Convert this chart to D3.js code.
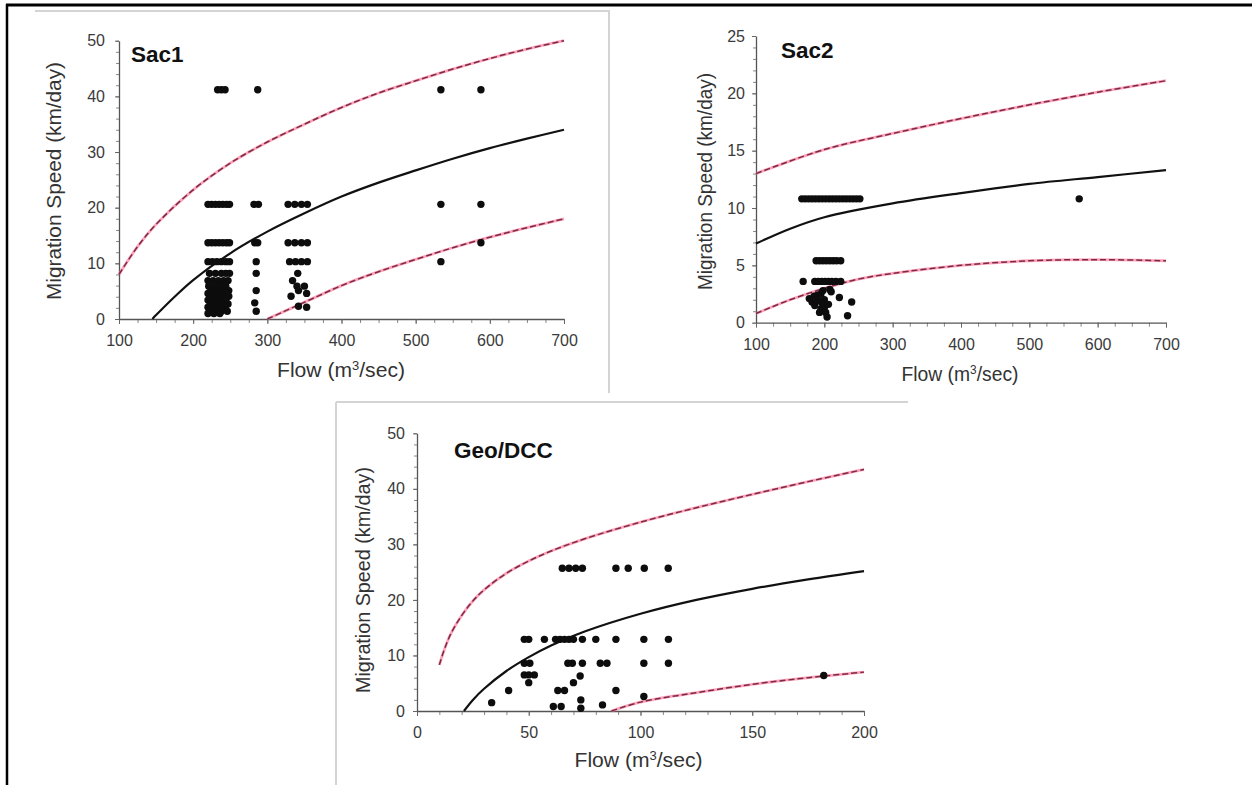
<!DOCTYPE html>
<html><head><meta charset="utf-8">
<script src="https://cdn.jsdelivr.net/npm/d3@7"></script>
<style>
body{margin:0;background:#fff}
svg{display:block}
text{font-family:"Liberation Sans",Arial,Helvetica,sans-serif}
</style>
</head><body><svg id="c" width="1252" height="785"></svg>
<script>
// ---------------- DATA ----------------
const sac1XTicks = [100, 200, 300, 400, 500, 600, 700];
const sac1YTicks = [0, 10, 20, 30, 40, 50];
const sac1Points = [
  [233,41.2],[238,41.2],[243,41.2],[287,41.2],[534,41.2],[588,41.2],
  [220,20.6],[225,20.6],[230,20.6],[235,20.6],[240,20.6],[245,20.6],[249,20.6],[282,20.6],[288,20.6],[328,20.6],[337,20.6],[346,20.6],[354,20.6],[534,20.6],[588,20.6],
  [220,13.7],[225,13.7],[230,13.7],[235,13.7],[240,13.7],[245,13.7],[249,13.7],[283,13.7],[287,13.7],[328,13.7],[337,13.7],[346,13.7],[354,13.7],[588,13.7],
  [220,10.3],[226,10.3],[232,10.3],[238,10.3],[244,10.3],[249,10.3],[285,10.3],[330,10.3],[338,10.3],[346,10.3],[354,10.3],[534,10.3],
  [222,8.2],[230,8.2],[238,8.2],[244,8.2],[249,8.2],[285,8.2],[341,8.2],
  [220,6.9],[227,6.9],[234,6.9],[241,6.9],[247,6.9],[334,6.9],
  [221,5.9],[229,5.9],[237,5.9],[244,5.9],[340,5.9],[350,5.9],
  [224,5.1],[232,5.1],[240,5.1],[248,5.1],[285,5.1],[342,5.1],
  [220,4.6],[228,4.6],[236,4.6],[244,4.6],[353,4.6],
  [224,4.1],[232,4.1],[240,4.1],[248,4.1],[332,4.1],
  [220,3.4],[228,3.4],[236,3.4],[244,3.4],
  [223,2.7],[231,2.7],[239,2.7],[247,2.7],[283,2.9],
  [220,2.1],[227,2.1],[235,2.1],[243,2.1],[342,2.3],[353,2.1],
  [222,1.4],[230,1.4],[238,1.4],[246,1.4],[285,1.4],
  [220,1.0],[228,1.0],[236,1.0]
];
const sac1Fit = [[145,0],[150,0.7],[175,4],[200,7],[250,11.8],[300,15.7],[350,19],[400,22],[450,24.5],[500,26.7],[550,28.8],[600,30.7],[650,32.4],[700,34]];
const sac1Upper = [[100,8],[125,13],[150,17],[200,23.2],[250,28],[300,31.8],[350,35],[400,38],[450,40.6],[500,42.8],[550,44.9],[600,46.8],[650,48.5],[700,50]];
const sac1Lower = [[300,0],[350,3],[400,6],[450,8.5],[500,10.7],[550,12.8],[600,14.7],[650,16.4],[700,18]];

const sac2XTicks = [100, 200, 300, 400, 500, 600, 700];
const sac2YTicks = [0, 5, 10, 15, 20, 25];
const sac2Points = [
  [167,10.8],[172,10.8],[177,10.8],[182,10.8],[187,10.8],[192,10.8],[197,10.8],[202,10.8],[207,10.8],[212,10.8],[217,10.8],[222,10.8],[227,10.8],[232,10.8],[237,10.8],[242,10.8],[247,10.8],[252,10.8],[573,10.8],
  [188,5.4],[193,5.4],[198,5.4],[203,5.4],[208,5.4],[213,5.4],[218,5.4],[224,5.4],
  [169,3.6],[186,3.6],[191,3.6],[196,3.6],[201,3.6],[206,3.6],[211,3.6],[217,3.6],[224,3.6],
  [178,2.1],[182,1.8],[185,2.3],[186,1.5],[188,2.0],[190,2.4],[192,1.9],[193,0.9],[195,1.2],[195,2.5],[197,1.7],[198,2.8],[200,2.0],[200,1.3],[202,0.9],[204,0.5],[206,1.6],[208,2.9],[210,2.7],[222,2.2],[240,1.8],[234,0.6]
];
const sac2Fit = [[100,6.9],[150,8.2],[200,9.2],[300,10.4],[400,11.3],[500,12.1],[600,12.7],[700,13.3]];
const sac2Upper = [[100,13],[200,15.1],[300,16.5],[400,17.8],[500,19],[600,20.1],[700,21.1]];
const sac2Lower = [[100,0.8],[150,2.0],[200,3.0],[250,3.8],[300,4.3],[400,5.0],[500,5.4],[600,5.5],[700,5.4]];

const geoXTicks = [0, 50, 100, 150, 200];
const geoYTicks = [0, 10, 20, 30, 40, 50];
const geoPoints = [
  [65,25.7],[68,25.7],[71,25.7],[74,25.7],[89,25.7],[94.5,25.7],[101.7,25.7],[112.4,25.7],
  [48,12.9],[50,12.9],[57,12.9],[62,12.9],[64,12.9],[66,12.9],[68,12.9],[70,12.9],[74,12.9],[80,12.9],[89,12.9],[101.5,12.9],[112.5,12.9],
  [48,8.6],[50.5,8.6],[67.5,8.6],[69.5,8.6],[74,8.6],[82,8.6],[85,8.6],[101.5,8.6],[112.5,8.6],
  [48,6.5],[50,6.5],[52.5,6.5],[73,6.3],
  [50,5.1],[70,5.1],
  [41,3.7],[63,3.7],[66,3.7],[89,3.7],
  [101.5,2.6],[73.3,2.0],[33.4,1.5],[83,1.1],[61,0.8],[64.5,0.8],[73.3,0.5],
  [182,6.4]
];
const geoFit = [[21,0],[25,2],[30,4],[40,7.2],[50,9.7],[60,11.8],[75,14.3],[100,17.5],[125,20],[150,22],[175,23.7],[200,25.2]];
const geoUpper = [[10,8.3],[12,10.8],[15,13.8],[20,17.2],[25,19.8],[30,21.8],[40,24.8],[50,27],[60,28.8],[75,31],[100,34],[125,36.6],[150,39],[175,41.3],[200,43.5]];
const geoLower = [[87,0],[100,1.6],[125,3.3],[150,4.8],[175,6.0],[200,7.0]];

const yLabel = "Migration Speed (km/day)";

// ---------------- LAYOUT ----------------
const svg = d3.select("#c");

// frame
svg.append("line").attr("x1",6).attr("x2",1252).attr("y1",5).attr("y2",5).attr("stroke","#000").attr("stroke-width",3);
svg.append("line").attr("x1",7).attr("x2",7).attr("y1",4).attr("y2",785).attr("stroke","#000").attr("stroke-width",2.5);
// faint panel borders
const bc = "#d4d4d4";
svg.append("line").attr("x1",35).attr("x2",610).attr("y1",11).attr("y2",11).attr("stroke",bc).attr("stroke-width",2);
svg.append("line").attr("x1",609).attr("x2",609).attr("y1",11).attr("y2",393).attr("stroke",bc).attr("stroke-width",2);
svg.append("line").attr("x1",336).attr("x2",908).attr("y1",402).attr("y2",402).attr("stroke",bc).attr("stroke-width",2);
svg.append("line").attr("x1",336).attr("x2",336).attr("y1",402).attr("y2",785).attr("stroke",bc).attr("stroke-width",2);

const panels = [
  {title:"Sac1", points:sac1Points, fit:sac1Fit, upper:sac1Upper, lower:sac1Lower,
   xTicks:sac1XTicks, yTicks:sac1YTicks, xMinor:25, yMinor:2,
   px:[119,564], py:[319,40.7], titleXY:[131,62], ylab:{x:61,y:181,len:238}, xlab:{x:341,y:377,len:128}, yPad:10},
  {title:"Sac2", points:sac2Points, fit:sac2Fit, upper:sac2Upper, lower:sac2Lower,
   xTicks:sac2XTicks, yTicks:sac2YTicks, xMinor:25, yMinor:1,
   px:[756,1166], py:[322.7,36], titleXY:[781,58], ylab:{x:712,y:181.5,len:217}, xlab:{x:960,y:381,len:117}, yPad:7},
  {title:"Geo/DCC", points:geoPoints, fit:geoFit, upper:geoUpper, lower:geoLower,
   xTicks:geoXTicks, yTicks:geoYTicks, xMinor:10, yMinor:2,
   px:[417,864], py:[711,433.3], titleXY:[454,458], ylab:{x:370,y:580,len:226}, xlab:{x:638.5,y:767,len:128}, yPad:8}
];

function drawPanel(p) {
  const xd = [p.xTicks[0], p.xTicks[p.xTicks.length-1]];
  const yd = [p.yTicks[0], p.yTicks[p.yTicks.length-1]];
  const x = d3.scaleLinear().domain(xd).range(p.px);
  const y = d3.scaleLinear().domain(yd).range(p.py);
  const g = svg.append("g");

  // minor ticks
  const xm = d3.range(xd[0], xd[1] + 1e-6, p.xMinor);
  const ym = d3.range(yd[0], yd[1] + 1e-6, p.yMinor);
  const gxm = g.append("g").attr("transform",`translate(0,${p.py[0]})`)
    .call(d3.axisBottom(x).tickValues(xm).tickSize(4).tickSizeOuter(0).tickFormat(""));
  const gym = g.append("g").attr("transform",`translate(${p.px[0]},0)`)
    .call(d3.axisLeft(y).tickValues(ym).tickSize(3).tickSizeOuter(0).tickFormat(""));
  [gxm, gym].forEach(a => { a.select(".domain").remove(); a.selectAll("line").attr("stroke","#888").attr("stroke-width",1); });

  // major axes
  const gx = g.append("g").attr("transform",`translate(0,${p.py[0]})`)
    .call(d3.axisBottom(x).tickValues(p.xTicks).tickSize(5).tickSizeOuter(0).tickPadding(11));
  const gy = g.append("g").attr("transform",`translate(${p.px[0]},0)`)
    .call(d3.axisLeft(y).tickValues(p.yTicks).tickSize(4).tickSizeOuter(0).tickPadding(p.yPad));
  [gx, gy].forEach(a => {
    a.select(".domain").attr("stroke","#555").attr("stroke-width",1.3);
    a.selectAll("line").attr("stroke","#666").attr("stroke-width",1);
    a.selectAll("text").attr("font-size",16).attr("fill","#3a3a3a")
      .attr("font-family",'"Liberation Sans",Arial,sans-serif');
  });

  const line = d3.line().x(d => x(d[0])).y(d => y(d[1])).curve(d3.curveCatmullRom.alpha(0.5));

  // dashed bounds (pink halo + darker dashes)
  [p.upper, p.lower].forEach(arr => {
    g.append("path").attr("d", line(arr)).attr("fill","none")
      .attr("stroke","#ff7aa0").attr("stroke-width",2.8).attr("stroke-opacity",0.7);
    g.append("path").attr("d", line(arr)).attr("fill","none")
      .attr("stroke","#7a2c42").attr("stroke-width",1.5).attr("stroke-dasharray","6,3");
  });
  // fitted line
  g.append("path").attr("d", line(p.fit)).attr("fill","none")
    .attr("stroke","#111").attr("stroke-width",2.2);

  // points
  g.append("g").selectAll("circle").data(p.points).join("circle")
    .attr("cx", d => x(d[0])).attr("cy", d => y(d[1])).attr("r", 3.7).attr("fill","#0d0d0d");

  // title
  g.append("text").attr("x", p.titleXY[0]).attr("y", p.titleXY[1])
    .attr("font-size",22.5).attr("font-weight","bold").attr("fill","#111").text(p.title);
  // y label
  g.append("text").attr("transform",`translate(${p.ylab.x},${p.ylab.y}) rotate(-90)`)
    .attr("text-anchor","middle").attr("font-size",19.5).attr("fill","#333")
    .attr("textLength", p.ylab.len).attr("lengthAdjust","spacingAndGlyphs").text(yLabel);
  // x label
  const xl = g.append("text").attr("x", p.xlab.x).attr("y", p.xlab.y)
    .attr("text-anchor","middle").attr("font-size",19.5).attr("fill","#333")
    .attr("textLength", p.xlab.len).attr("lengthAdjust","spacingAndGlyphs");
  xl.append("tspan").text("Flow (m");
  xl.append("tspan").attr("font-size",12).attr("dy",-7).text("3");
  xl.append("tspan").attr("dy",7).text("/sec)");
}
panels.forEach(drawPanel);
</script>
</body></html>
